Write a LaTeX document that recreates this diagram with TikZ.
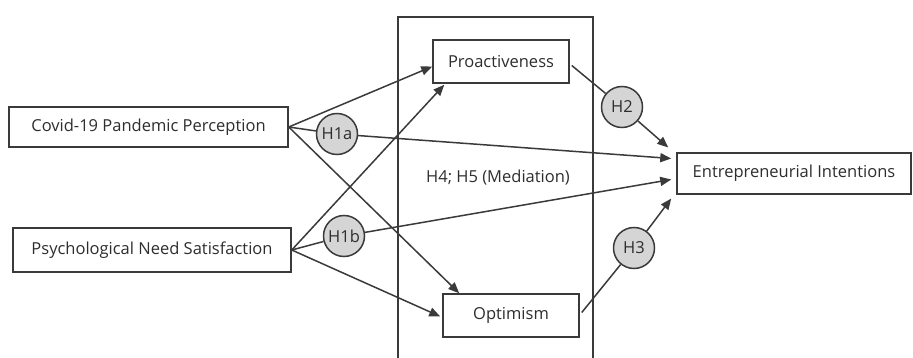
\documentclass[tikz,border=0pt]{standalone}
\usepackage{fontspec}
\setmainfont{Open Sans}
\usetikzlibrary{
	positioning,
	arrows.meta,
	calc}
\definecolor{linegray}{HTML}{3A3A3A}
\definecolor{hypfill}{HTML}{D5D5D5}
\definecolor{textgray}{HTML}{2E2E2E}
\tikzset{
	path model/.style={
		x=1pt, y=-1pt,
		font=\fontsize{16.5}{20}\selectfont,
		text=textgray
		},
	construct/.style={
		rectangle,
		draw=linegray,
		fill=white,
		line width=1.5pt,
		inner sep=0pt
	},
	hyp/.style={
		circle,
		draw=linegray,
		fill=hypfill,
		line width=1.5pt,
		inner sep=0pt,
		minimum size=41pt
	},
	link/.style={
		draw=linegray,
		line width=1.5pt
	},
	effect/.style={
		link,
		-{Triangle[length=11pt,width=9pt]}
	},
}
\begin{document}
\begin{tikzpicture}[path model]
	\useasboundingbox (0,0) rectangle (913,358);
	\draw[link] (398,362) -- (398,17) -- (593,17) -- (593,362);
	\node[construct, minimum width=279pt, minimum height=40pt] (cov) at (148.5,127) {Covid-19 Pandemic Perception};
	\node[construct, minimum width=278pt, minimum height=44pt] (psy) at (152,250) {Psychological Need Satisfaction};
	\node[construct, minimum width=136pt, minimum height=43pt] (pro) at (501,61.5) {Proactiveness};
	\node[construct, minimum width=136pt, minimum height=43pt] (opt) at (511,315.5) {Optimism};
	\node[construct, minimum width=234pt, minimum height=41pt] (ent) at (794,173.5) {Entrepreneurial Intentions};
	\node (med) at (498,178) {H4; H5 (Mediation)};
	\node[hyp] (h1a) at (337,134) {H1a};
	\node[hyp] (h1b) at (344,236) {H1b};
	\node[hyp] (h2)  at (622,107) {H2};
	\node[hyp] (h3)  at (634,248) {H3};
%
	\draw[effect] (cov.east) -- ($(pro.west)+(0,5)$);
	\draw[effect] (cov.east) -- ($(opt.north west)+(17,0)$);
	\draw[link]   (cov.east) -- (h1a);
	\draw[effect] (h1a) -- ($(ent.west)+(-5,-15)$);
	\draw[effect] (psy.east) -- ($(pro.south west)+(12,1)$);
	\draw[effect] (psy.east) -- ($(opt.west)+(-2,1)$);
	\draw[link]   (psy.east) -- (h1b);
	\draw[effect] (h1b) -- ($(ent.west)+(-5,6)$);
%
	\draw[link]   ($(pro.east)+(2,4)$) -- (h2);
	\draw[effect] (h2) -- ($(ent.west)+(-8,-26)$);
	\draw[link]   ($(opt.east)+(2,-3)$) -- (h3);
	\draw[effect] (h3) -- ($(ent.west)+(-5,25)$);
\end{tikzpicture}
\end{document}
